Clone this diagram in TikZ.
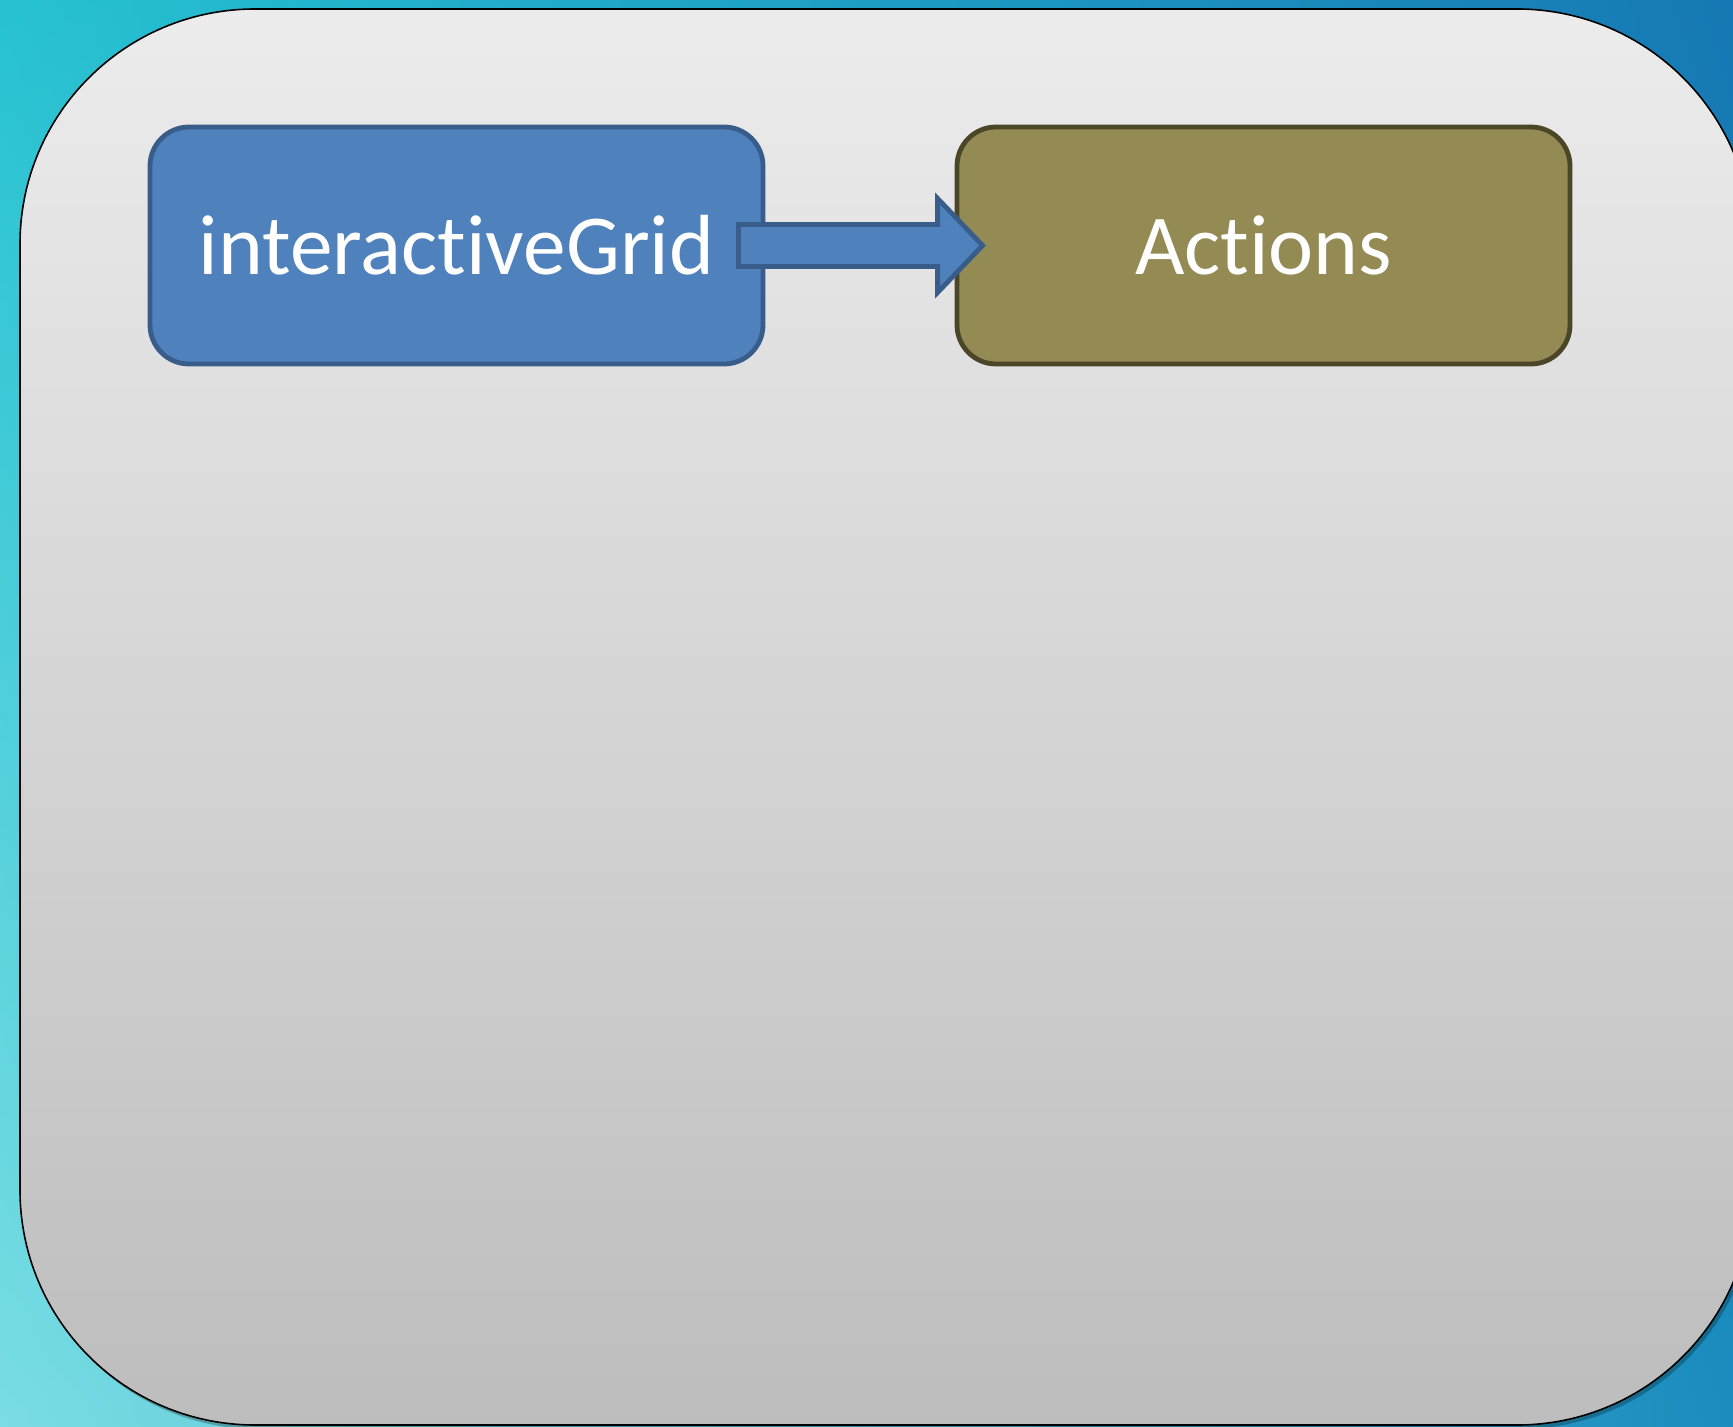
\documentclass[tikz,border=0pt]{standalone}
\usepackage{fontspec}
\setmainfont{Carlito}[Ligatures={NoCommon}]
\usetikzlibrary{calc,shadings}
\definecolor{bgUL}{HTML}{26C2D2}
\definecolor{bgUR}{HTML}{1678B4}
\definecolor{bgLL}{HTML}{7ADDE3}
\definecolor{bgLR}{HTML}{1A8CBE}
\definecolor{panelTop}{HTML}{ECECEC}
\definecolor{panelBot}{HTML}{BDBDBD}
\definecolor{blueFill}{HTML}{4F81BD}
\definecolor{blueLine}{HTML}{385D8A}
\definecolor{oliveFill}{HTML}{948A54}
\definecolor{oliveLine}{HTML}{4C4629}
\tikzset{
  boxbase/.style={rounded corners=19.5pt, minimum width=306.5pt, minimum height=118.5pt,
    line width=2.4pt, text=white, font=\fontsize{42.7}{50}\selectfont, inner sep=0pt},
  bluebox/.style={boxbase, draw=blueLine, fill=blueFill},
  olivebox/.style={boxbase, draw=oliveLine, fill=oliveFill},
  fatarrow/.style={draw=blueLine, fill=blueFill, line width=2.4pt, line join=miter},
  panel/.style={draw=black, line width=0.8pt, top color=panelTop, bottom color=panelBot}
}
\begin{document}
\begin{tikzpicture}[x=0.5pt, y=-0.5pt]
  \clip (0,0) rectangle (1733,1427);
  \shade[upper left=bgUL, upper right=bgUR, lower left=bgLL, lower right=bgLR]
    (0,0) rectangle (1733,1427);
  \path[fill=black, opacity=0.25, rounded corners=117.5pt] (23,13) rectangle (1755,1429);
  \path[panel, rounded corners=117.5pt] (20,9) rectangle (1752,1425);
  \node[bluebox] (grid) at (456.5,245.5) {interactiveGrid};
  \node[olivebox] (actions) at (1263.5,245.5) {Actions};
  \draw[fatarrow]
    ($(grid.east)+(-27,-21)$) -- ($(actions.west)+(-17,-21)$) -- ($(actions.west)+(-17,-47)$)
    -- ($(actions.west)+(28,0)$)
    -- ($(actions.west)+(-17,47)$) -- ($(actions.west)+(-17,21)$) -- ($(grid.east)+(-27,21)$) -- cycle;
\end{tikzpicture}
\end{document}
